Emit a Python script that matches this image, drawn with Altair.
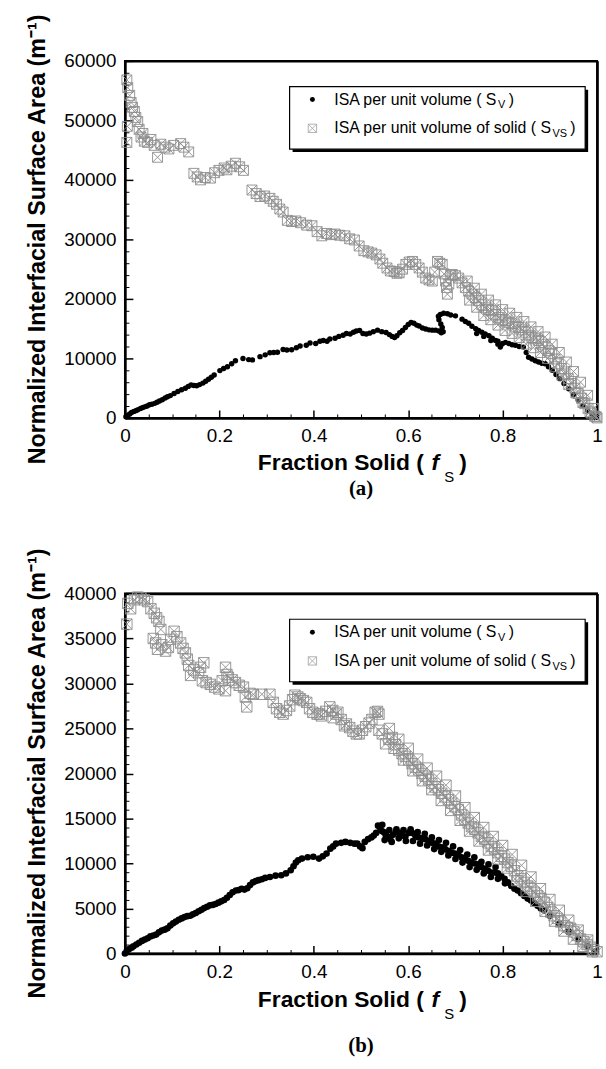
import altair as alt
import pandas as pd

# ---------------- data (fraction solid, value) ----------------
TOP_SV = [
    (0.002, 200), (0.006, 400), (0.010, 650), (0.014, 900), (0.019, 1100), (0.024, 1250),
    (0.028, 1400), (0.033, 1600), (0.038, 1750), (0.043, 1900), (0.047, 2000), (0.052, 2200),
    (0.057, 2300), (0.063, 2450), (0.068, 2650), (0.073, 2850), (0.079, 3050), (0.085, 3350),
    (0.090, 3550), (0.096, 3750), (0.104, 4100), (0.112, 4450), (0.120, 4750), (0.128, 5000),
    (0.134, 5300), (0.140, 5550), (0.146, 5450), (0.152, 5400), (0.158, 5600), (0.165, 5850),
    (0.171, 6150), (0.177, 6500), (0.183, 6850), (0.189, 7200), (0.201, 7950), (0.209, 8300),
    (0.217, 8600), (0.226, 9100), (0.234, 9600), (0.250, 10000), (0.262, 9800), (0.270, 9750),
    (0.286, 10300), (0.297, 10600), (0.307, 10950), (0.315, 11000), (0.323, 11050), (0.335, 11500),
    (0.343, 11400), (0.353, 11450), (0.363, 11800), (0.371, 12100), (0.384, 12200), (0.392, 12600),
    (0.404, 12500), (0.413, 12900), (0.420, 13000), (0.428, 12900), (0.434, 13250), (0.445, 13400),
    (0.453, 13700), (0.462, 13900), (0.469, 14200), (0.477, 14100), (0.484, 14400), (0.490, 14600),
    (0.497, 14700), (0.504, 14200), (0.511, 14100), (0.518, 14250), (0.526, 14500), (0.535, 14750),
    (0.544, 14500), (0.553, 14350), (0.560, 14000), (0.566, 13700), (0.571, 13500), (0.576, 13800),
    (0.582, 14300), (0.588, 14700), (0.594, 15200), (0.600, 15700), (0.606, 16050), (0.612, 15900),
    (0.618, 15600), (0.623, 15450), (0.630, 15100), (0.637, 14950), (0.644, 14800), (0.651, 14750),
    (0.658, 14750), (0.665, 14600), (0.670, 14300), (0.674, 14500), (0.672, 15200), (0.669, 15800),
    (0.665, 16500), (0.664, 17100), (0.668, 17400), (0.675, 17600), (0.683, 17500), (0.690, 17300),
    (0.700, 17150), (0.714, 16600), (0.721, 16200), (0.728, 15900), (0.735, 15400), (0.743, 15000),
    (0.749, 14700), (0.756, 14400), (0.763, 14100), (0.771, 13800), (0.778, 13400), (0.785, 13000),
    (0.790, 12400), (0.795, 11900), (0.800, 12500), (0.806, 12700), (0.813, 12500), (0.820, 12300),
    (0.827, 12200), (0.835, 12000), (0.844, 11900), (0.850, 11000), (0.855, 10200), (0.862, 9900),
    (0.869, 9600), (0.876, 9400), (0.883, 9200), (0.890, 9100), (0.897, 8600), (0.905, 8000),
    (0.913, 7300), (0.921, 6600), (0.930, 5800), (0.940, 4900), (0.950, 3900), (0.960, 3000),
    (0.970, 2100), (0.980, 1300), (0.990, 600), (0.998, 100),
    (0.745, 14200), (0.760, 13700), (0.775, 13000), (0.790, 12900), (0.797, 12300),
]

TOP_SVS = [
    (0.004, 56800), (0.006, 55500), (0.010, 54200), (0.013, 53000), (0.016, 52200), (0.020, 51500),
    (0.005, 49000), (0.004, 46300), (0.023, 50500), (0.027, 49800), (0.030, 48500), (0.034, 47200),
    (0.038, 47800), (0.041, 46500), (0.048, 46300), (0.055, 46800), (0.062, 45800), (0.069, 43800),
    (0.076, 46000), (0.085, 45500), (0.093, 45200), (0.103, 45800), (0.118, 46100), (0.125, 45500),
    (0.135, 44700), (0.146, 41100), (0.153, 40500), (0.160, 40000), (0.170, 40400), (0.181, 40300),
    (0.190, 41200), (0.199, 41600), (0.210, 42000), (0.216, 41700), (0.225, 42300), (0.234, 42800),
    (0.243, 42200), (0.251, 41600), (0.269, 38300), (0.278, 37700), (0.286, 37200), (0.296, 37300),
    (0.307, 36900), (0.314, 36400), (0.321, 35900), (0.328, 35100), (0.335, 34600), (0.344, 33200),
    (0.353, 33000), (0.362, 33100), (0.372, 32800), (0.385, 32400), (0.396, 32300), (0.407, 31300),
    (0.417, 30600), (0.427, 31000), (0.437, 30800), (0.445, 30900), (0.455, 30700), (0.466, 30600),
    (0.476, 30100), (0.486, 29900), (0.496, 28900), (0.506, 28100), (0.515, 27900), (0.523, 27700),
    (0.532, 27400), (0.540, 26700), (0.546, 26000), (0.555, 25200), (0.562, 24700), (0.570, 24600),
    (0.576, 24300), (0.581, 24400), (0.588, 25000), (0.595, 25800), (0.602, 26200), (0.609, 26300),
    (0.616, 25800), (0.623, 25200), (0.630, 24500), (0.637, 23500), (0.644, 23200), (0.651, 23000),
    (0.656, 24500), (0.662, 26300), (0.667, 26000), (0.672, 25800), (0.676, 24200), (0.679, 23000),
    (0.681, 21900), (0.683, 20800), (0.686, 22500), (0.690, 24000), (0.693, 24100), (0.700, 23900),
    (0.707, 23500), (0.714, 22700), (0.721, 21900), (0.728, 21300), (0.735, 20800), (0.742, 20200),
    (0.749, 19700), (0.756, 19000), (0.764, 18500), (0.770, 18200), (0.777, 18000), (0.785, 17400),
    (0.792, 16900), (0.799, 16500), (0.806, 16300), (0.813, 16000), (0.820, 15800), (0.827, 15400),
    (0.834, 15200), (0.841, 14800), (0.848, 14400), (0.855, 13900), (0.862, 13500), (0.869, 13300),
    (0.876, 13000), (0.883, 12400), (0.890, 11900), (0.897, 11300), (0.904, 10800), (0.911, 9900),
    (0.918, 9100), (0.925, 8300), (0.932, 7400), (0.939, 6600), (0.946, 5800), (0.953, 5000),
    (0.960, 4100), (0.967, 3300), (0.974, 2400), (0.981, 1600), (0.988, 800), (0.995, 300),
    (1.000, 0),
    # upper edge of the band
    (0.725, 23000), (0.740, 21800), (0.755, 20800), (0.770, 19800), (0.785, 19000), (0.800, 18200),
    (0.815, 17600), (0.830, 16900), (0.845, 16200), (0.860, 15300), (0.875, 14500), (0.890, 13600),
    (0.905, 12400), (0.920, 11000), (0.935, 9400), (0.950, 7800), (0.965, 6000), (0.980, 3800),
    (0.993, 1600),
    # lower edge of the band
    (0.730, 19800), (0.745, 18600), (0.760, 17200), (0.775, 16500), (0.790, 15600), (0.805, 14700),
    (0.820, 14200), (0.835, 13500), (0.850, 12400), (0.865, 11800), (0.880, 11000), (0.895, 10000),
    (0.910, 8600), (0.925, 7200), (0.940, 5600), (0.955, 4200), (0.970, 2600), (0.985, 1000),
    (0.998, 200),
]

BOT_SV = [
    (0.000, 0), (0.004, 300), (0.009, 500), (0.014, 650), (0.018, 800), (0.024, 1000), (0.030, 1200),
    (0.036, 1400), (0.042, 1550), (0.048, 1700), (0.054, 1900), (0.060, 2000), (0.066, 2100),
    (0.072, 2350), (0.078, 2550), (0.084, 2650), (0.090, 2800), (0.096, 3100), (0.102, 3350),
    (0.108, 3550), (0.114, 3750), (0.120, 3900), (0.126, 4050), (0.132, 4150), (0.138, 4200),
    (0.144, 4350), (0.150, 4500), (0.156, 4700), (0.162, 4850), (0.168, 5050), (0.174, 5200),
    (0.180, 5350), (0.186, 5400), (0.192, 5500), (0.198, 5650), (0.204, 5800), (0.210, 5950),
    (0.216, 6200), (0.222, 6500), (0.228, 6800), (0.235, 7000), (0.241, 7050), (0.247, 7200),
    (0.253, 7100), (0.259, 7250), (0.265, 7600), (0.271, 7900), (0.277, 8050), (0.283, 8150),
    (0.290, 8250), (0.297, 8400), (0.307, 8500), (0.319, 8650), (0.331, 8700), (0.341, 8900),
    (0.351, 9250), (0.357, 9700), (0.362, 10100), (0.367, 10350), (0.375, 10550), (0.387, 10700),
    (0.399, 10750), (0.411, 10550), (0.419, 10800), (0.427, 11100), (0.435, 11650), (0.441, 11900),
    (0.447, 12200), (0.458, 12300), (0.467, 12400), (0.477, 12300), (0.486, 12200), (0.492, 12200),
    (0.498, 11900), (0.503, 11700), (0.508, 12400), (0.515, 12700), (0.522, 12900), (0.527, 13100),
    (0.532, 13400), (0.536, 14200), (0.540, 14000), (0.544, 13600), (0.548, 13500), (0.552, 13200),
    (0.556, 13000), (0.562, 12700), (0.568, 13200), (0.574, 13500), (0.580, 13400), (0.587, 13100),
    (0.594, 13000), (0.601, 13400), (0.608, 13400), (0.615, 13100), (0.622, 12900), (0.629, 12800),
    (0.636, 12700), (0.643, 12500), (0.650, 12300), (0.657, 12200), (0.664, 11900), (0.671, 11800),
    (0.678, 11600), (0.685, 11400), (0.692, 11200), (0.699, 11100), (0.706, 11000), (0.713, 10700),
    (0.720, 10500), (0.727, 10300), (0.734, 10100), (0.741, 10000), (0.748, 9900), (0.755, 9600),
    (0.762, 9400), (0.769, 9200), (0.776, 9000), (0.783, 9000), (0.790, 8900), (0.797, 8600),
    (0.804, 8300), (0.811, 7900), (0.818, 7500), (0.825, 7200), (0.832, 7000), (0.839, 6700),
    (0.846, 6400), (0.853, 6100), (0.860, 5900), (0.867, 5600), (0.874, 5300), (0.881, 5000),
    (0.888, 4800), (0.900, 4200), (0.920, 3300), (0.940, 2400), (0.960, 1600), (0.980, 800),
    (0.995, 200),
    # upper edge of the band
    (0.545, 14300), (0.560, 13700), (0.575, 13800), (0.590, 13700), (0.605, 13800), (0.620, 13500),
    (0.635, 13300), (0.650, 12900), (0.665, 12600), (0.680, 12300), (0.695, 11900), (0.710, 11500),
    (0.725, 11000), (0.740, 10700), (0.755, 10200), (0.770, 9900), (0.785, 9600),
    # lower edge of the band
    (0.550, 12600), (0.565, 12400), (0.580, 12800), (0.595, 12500), (0.610, 12500), (0.625, 12200),
    (0.640, 12000), (0.655, 11600), (0.670, 11300), (0.685, 10900), (0.700, 10500), (0.715, 10100),
    (0.730, 9600), (0.745, 9300), (0.760, 8900), (0.775, 8500), (0.790, 8300), (0.805, 7800),
]

BOT_SVS = [
    (0.004, 36600), (0.006, 38900), (0.012, 38300), (0.020, 39300), (0.027, 39600), (0.034, 39500),
    (0.041, 39300), (0.048, 39100), (0.055, 38300), (0.062, 37800), (0.067, 37300), (0.072, 36900),
    (0.076, 36000), (0.065, 34500), (0.069, 33800), (0.060, 35000), (0.078, 34300), (0.086, 33600),
    (0.092, 34000), (0.097, 34900), (0.104, 35800), (0.110, 35200), (0.118, 34500), (0.123, 33900),
    (0.128, 33400), (0.132, 32700), (0.135, 32000), (0.139, 30900), (0.146, 31500), (0.156, 31200),
    (0.160, 31800), (0.167, 32300), (0.164, 30300), (0.172, 30100), (0.181, 29900), (0.190, 29600),
    (0.199, 29400), (0.206, 30300), (0.213, 31800), (0.216, 31000), (0.219, 30700), (0.213, 29200),
    (0.227, 30400), (0.234, 30100), (0.242, 29800), (0.251, 29600), (0.255, 28500), (0.258, 27400),
    (0.265, 28900), (0.272, 28800), (0.290, 28800), (0.307, 28800), (0.314, 27900), (0.321, 27200),
    (0.328, 26800), (0.335, 26600), (0.342, 27000), (0.349, 27500), (0.355, 28200), (0.360, 28700),
    (0.366, 28500), (0.371, 28300), (0.378, 28100), (0.385, 27900), (0.391, 27200), (0.398, 26800),
    (0.407, 26600), (0.412, 26600), (0.416, 26400), (0.425, 26900), (0.434, 27400), (0.440, 27000),
    (0.441, 26200), (0.447, 26600), (0.451, 26800), (0.458, 26000), (0.465, 25300), (0.469, 25500),
    (0.476, 25100), (0.483, 24700), (0.490, 24400), (0.496, 24400), (0.503, 24800), (0.510, 25200),
    (0.517, 25600), (0.523, 26000), (0.530, 26800), (0.535, 26900), (0.538, 26600), (0.538, 24800),
    (0.545, 24400), (0.552, 23300), (0.559, 23800), (0.566, 24000), (0.573, 23200), (0.580, 22600),
    (0.587, 22200), (0.594, 21900), (0.601, 21500), (0.608, 21100), (0.615, 20700), (0.622, 20400),
    (0.629, 20000), (0.636, 19700), (0.643, 19300), (0.650, 18900), (0.657, 18500), (0.664, 18200),
    (0.671, 17800), (0.678, 17400), (0.685, 17100), (0.692, 16700), (0.699, 16300), (0.706, 16000),
    (0.713, 15400), (0.720, 14900), (0.727, 14500), (0.734, 14100), (0.741, 13800), (0.748, 13400),
    (0.755, 13000), (0.762, 12700), (0.769, 12300), (0.776, 11900), (0.783, 11600), (0.790, 11200),
    (0.797, 10800), (0.804, 10500), (0.811, 10100), (0.818, 9700), (0.825, 9200), (0.832, 8600),
    (0.839, 8300), (0.846, 7900), (0.853, 7500), (0.860, 7200), (0.867, 6800), (0.874, 6400),
    (0.881, 6100), (0.888, 5700), (0.895, 5100), (0.902, 4600), (0.909, 4200), (0.916, 3900),
    (0.923, 3500), (0.930, 3100), (0.937, 2900), (0.944, 2800), (0.951, 2400), (0.958, 2000),
    (0.965, 1600), (0.972, 1300), (0.979, 1000), (0.986, 700), (0.993, 400), (1.000, 200),
    # upper edge of the band
    (0.560, 25000), (0.580, 23800), (0.600, 22800), (0.620, 21600), (0.640, 20600), (0.660, 19700),
    (0.680, 18700), (0.700, 17500), (0.720, 16200), (0.740, 15100), (0.760, 14000), (0.780, 13000),
    (0.800, 12000), (0.820, 11000), (0.840, 9800), (0.860, 8500), (0.880, 7200), (0.900, 6000),
    (0.920, 4800), (0.940, 3700), (0.960, 2600), (0.980, 1500),
    # lower edge of the band
    (0.570, 22800), (0.590, 21500), (0.610, 20300), (0.630, 19200), (0.650, 18200), (0.670, 17000),
    (0.690, 15900), (0.710, 14800), (0.730, 13600), (0.750, 12500), (0.770, 11500), (0.790, 10500),
    (0.810, 9500), (0.830, 8100), (0.850, 6900), (0.870, 5800), (0.890, 4700), (0.910, 3600),
    (0.930, 2500), (0.950, 1600), (0.970, 800), (0.990, 200),
]

X_MAJOR = [0, 0.2, 0.4, 0.6, 0.8, 1]
X_MINOR = [0.05, 0.1, 0.15, 0.25, 0.3, 0.35, 0.45, 0.5, 0.55, 0.65, 0.7, 0.75, 0.85, 0.9, 0.95]
TOP_Y_MAJOR = [0, 10000, 20000, 30000, 40000, 50000, 60000]
TOP_Y_MINOR = [v for v in range(2000, 60000, 2000) if v % 10000]
BOT_Y_MAJOR = [0, 5000, 10000, 15000, 20000, 25000, 30000, 35000, 40000]
BOT_Y_MINOR = [v for v in range(1000, 40000, 1000) if v % 5000]

LEGEND_SV = ["ISA per unit volume ( S", "V", ")"]
LEGEND_SVS = ["ISA per unit volume of solid ( S", "VS", ")"]
Y_TITLE = "Normalized Interfacial Surface Area  (m\u207b\u00b9)"
X_TITLE = ["Fraction Solid (", "f", "S", ")"]

SANS = "Liberation Sans"
SERIF = "Liberation Serif"
W = 476
SQUARE_X = "M-1,-1H1V1H-1Z M-1,-1L1,1 M1,-1L-1,1"
ONE = pd.DataFrame({"k": [0]})


def txt(s, x, y, size, weight="normal", style="normal", font=SANS, align="left", angle=0, color="black"):
    return alt.Chart(ONE).mark_text(
        text=s, align=align, baseline="middle", font=font, fontSize=size,
        fontWeight=weight, fontStyle=style, angle=angle, color=color,
    ).encode(x=alt.value(x), y=alt.value(y))


def panel(sv_pts, svs_pts, h, ymax, ymajor, yminor, dot_size, sq_size, title_dy, cap_dy, caption):
    sv = pd.DataFrame(sv_pts, columns=["fs", "val"])
    svs = pd.DataFrame(svs_pts, columns=["fs", "val"])
    xs = alt.Scale(domain=[0, 1], nice=False, zero=False)
    ys = alt.Scale(domain=[0, ymax], nice=False, zero=False)

    # bottom/left axes: labels plus the frame line (axis domain)
    lab = dict(labelFont=SANS, labelFontSize=19, labelColor="black", labelFlush=False,
               labelOverlap=False, ticks=False, domain=True, domainColor="black",
               domainWidth=2.5, grid=False, title=None)
    tick = dict(labels=False, ticks=True, tickColor="black", domain=False, grid=False, title=None)
    edge = dict(labels=False, ticks=False, domain=True, domainColor="black", domainWidth=2.5,
                grid=False, title=None)

    dots = alt.Chart(sv).mark_circle(color="black", size=dot_size, opacity=1).encode(
        x=alt.X("fs:Q", scale=xs, axis=alt.Axis(orient="bottom", values=X_MAJOR, tickSize=8,
                                                tickWidth=1.5, offset=-8, **tick)),
        y=alt.Y("val:Q", scale=ys, axis=alt.Axis(orient="left", values=ymajor, tickSize=8,
                                                 tickWidth=1.5, offset=-8, **tick)),
    )
    squares = alt.Chart(svs).mark_point(
        shape=SQUARE_X, filled=False, stroke="#8c8c8c", strokeWidth=0.9, size=sq_size, opacity=1
    ).encode(
        x=alt.X("fs:Q", scale=xs, axis=alt.Axis(orient="bottom", values=X_MAJOR, format="~g",
                                                labelPadding=9, **lab)),
        y=alt.Y("val:Q", scale=ys, axis=alt.Axis(orient="left", values=ymajor, format="d",
                                                 labelPadding=9, **lab)),
    )
    minor = alt.Chart(sv).mark_point(opacity=0).encode(
        x=alt.X("fs:Q", scale=xs, axis=alt.Axis(orient="bottom", values=X_MINOR, tickSize=4,
                                                tickWidth=1, offset=-4, **tick)),
        y=alt.Y("val:Q", scale=ys, axis=alt.Axis(orient="left", values=yminor, tickSize=4,
                                                 tickWidth=1, offset=-4, **tick)),
    )
    # top/right frame lines as bare axis domains
    edges = alt.Chart(sv).mark_point(opacity=0).encode(
        x=alt.X("fs:Q", scale=xs, axis=alt.Axis(orient="top", **edge)),
        y=alt.Y("val:Q", scale=ys, axis=alt.Axis(orient="right", **edge)),
    )

    shadow = alt.Chart(ONE).mark_rect(color="black").encode(
        x=alt.value(169), x2=alt.value(467), y=alt.value(29), y2=alt.value(92))
    box = alt.Chart(ONE).mark_rect(fill="white", stroke="black", strokeWidth=1.2).encode(
        x=alt.value(166), x2=alt.value(464), y=alt.value(26), y2=alt.value(89))
    sym1 = alt.Chart(ONE).mark_circle(color="black", size=25, opacity=1).encode(
        x=alt.value(189), y=alt.value(39))
    sym2 = alt.Chart(ONE).mark_point(shape=SQUARE_X, filled=False, stroke="#a8a8a8",
                                     strokeWidth=0.9, size=70, opacity=1).encode(
        x=alt.value(189), y=alt.value(68))

    texts = [
        txt(LEGEND_SV[0], 211, 39, 16), txt(LEGEND_SV[1], 376, 45, 11), txt(LEGEND_SV[2], 387, 39, 16),
        txt(LEGEND_SVS[0], 211, 68, 16), txt(LEGEND_SVS[1], 431, 74, 11), txt(LEGEND_SVS[2], 449, 68, 16),
        txt(Y_TITLE, -88, h / 2, 23.5, weight="bold", align="center", angle=270),
        txt(X_TITLE[0], 134, h + title_dy, 23, weight="bold"),
        txt(X_TITLE[1], 309, h + title_dy, 23, weight="bold", style="italic"),
        txt(X_TITLE[2], 322, h + title_dy + 14, 15),
        txt(X_TITLE[3], 337, h + title_dy, 23, weight="bold"),
        txt(caption, W / 2, h + cap_dy, 21, weight="bold", font=SERIF, align="center"),
    ]

    return alt.layer(dots, squares, minor, edges, shadow, box, sym1, sym2, *texts).resolve_axis(
        x="independent", y="independent"
    ).properties(width=W, height=h)


top = panel(TOP_SV, TOP_SVS, 360, 60000, TOP_Y_MAJOR, TOP_Y_MINOR, 30, 100, 46, 72, "(a)")
bottom = panel(BOT_SV, BOT_SVS, 363, 40000, BOT_Y_MAJOR, BOT_Y_MINOR, 45, 110, 47, 93, "(b)")

chart = alt.vconcat(top, bottom, spacing=43).properties(
    padding={"left": 24, "top": 5, "right": 0, "bottom": 0}, background="white"
).configure_view(stroke="black", strokeWidth=2)

chart.save("out.html", embed_options={"renderer": "svg", "actions": False})
